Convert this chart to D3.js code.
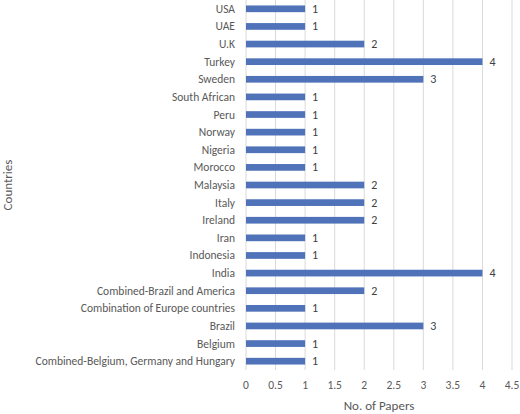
<!DOCTYPE html>
<html><head><meta charset="utf-8">
<script src="https://cdn.jsdelivr.net/npm/d3@7"></script>
<style>body{margin:0;background:#fff}text{font-family:Calibri,Carlito,"Open Sans",sans-serif}</style>
</head><body>
<svg id="chart" width="520" height="414"></svg>
<script>
const countries = ["USA", "UAE", "U.K", "Turkey", "Sweden", "South African ", "Peru", "Norway",
    "Nigeria", "Morocco", "Malaysia", "Italy", "Ireland", "Iran", "Indonesia", "India",
    "Combined-Brazil and America", "Combination of Europe countries", "Brazil", "Belgium",
    "Combined-Belgium, Germany and Hungary"];
const papers = [1, 1, 2, 4, 3, 1, 1, 1, 1, 1, 2, 2, 2, 1, 1, 4, 2, 1, 3, 1, 1];
const ticks = [0, 0.5, 1, 1.5, 2, 2.5, 3, 3.5, 4, 4.5];

const svg = d3.select("#chart");
const x = d3.scaleLinear().domain([0, 4.5]).range([246, 512]);
const y = d3.scaleBand().domain(countries).range([0, 370]).paddingInner(0.62).paddingOuter(0.31);

svg.selectAll("line.grid").data(ticks).enter().append("line")
    .attr("x1", d => x(d)).attr("x2", d => x(d))
    .attr("y1", 0).attr("y2", 370)
    .attr("stroke", "#d9d9d9").attr("stroke-width", 1);

svg.selectAll("rect.bar").data(papers).enter().append("rect")
    .attr("x", x(0))
    .attr("y", (d, i) => y(countries[i]))
    .attr("width", d => x(d) - x(0))
    .attr("height", y.bandwidth())
    .attr("fill", "#4f72b8");

svg.selectAll("text.val").data(papers).enter().append("text")
    .attr("x", d => x(d) + 7)
    .attr("y", (d, i) => y(countries[i]) + y.bandwidth() / 2 + 4)
    .attr("font-size", 12).attr("fill", "#404040")
    .text(d => d);

svg.selectAll("text.cat").data(countries).enter().append("text")
    .attr("x", 235)
    .attr("y", d => y(d) + y.bandwidth() / 2 + 4)
    .attr("text-anchor", "end").attr("font-size", 11.5).attr("fill", "#595959")
    .text(d => d);

svg.selectAll("text.tick").data(ticks).enter().append("text")
    .attr("x", d => x(d)).attr("y", 389)
    .attr("text-anchor", "middle").attr("font-size", 11.5).attr("fill", "#595959")
    .text(d => d);

svg.append("text").attr("x", x(2.25)).attr("y", 410)
    .attr("text-anchor", "middle").attr("font-size", 13).attr("fill", "#595959")
    .text("No. of Papers");

svg.append("text").attr("transform", "translate(12,185) rotate(-90)")
    .attr("text-anchor", "middle").attr("font-size", 13).attr("fill", "#595959")
    .text("Countries");
</script>
</body></html>
